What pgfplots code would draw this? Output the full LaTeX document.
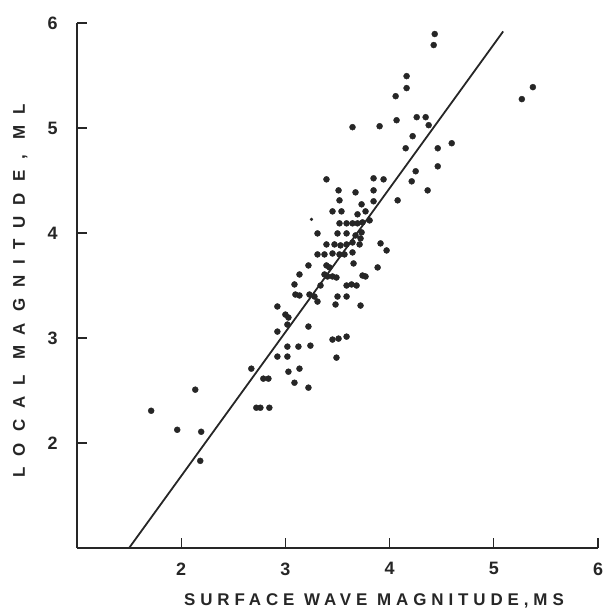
\documentclass[border=0pt]{standalone}
\usepackage{fontspec}
\setmainfont{Liberation Sans}
\usepackage{pgfplots}
\pgfplotsset{compat=1.18}
\definecolor{ink}{gray}{0.15}
\begin{document}
\begin{tikzpicture}[x=1bp,y=1bp]
\begin{axis}[
  scale only axis,
  width=521bp, height=525bp,
  xmin=1, xmax=6, ymin=1, ymax=6,
  axis x line=bottom, axis y line=left,
  axis line style={-, line width=1.5bp, ink},
  xtick={2,3,4,5,6}, ytick={2,3,4,5,6},
  tick align=inside,
  major tick length=10bp,
  tick style={line width=1.3bp, ink},
  /pgf/number format/assume math mode=true,
  ticklabel style={font=\fontsize{18}{18}\selectfont\bfseries, text=ink},
  yticklabel style={xshift=-16bp},
  xticklabel style={yshift=-11bp},
  xlabel={\addfontfeature{LetterSpace=29}SURFACE WAVE MAGNITUDE,MS},
  ylabel={\addfontfeature{LetterSpace=64}LOCAL MAGNITUDE, ML},
  label style={font=\fontsize{17}{17}\selectfont\bfseries, text=ink},
  xlabel style={at={(axis description cs:0.57,0)}, anchor=north, yshift=-42bp},
  ylabel style={at={(axis description cs:0,0.49)}, anchor=south, yshift=46bp},
  clip=false,
]
\coordinate (sw) at (rel axis cs:0,0);
\coordinate (ne) at (rel axis cs:1,1);
\addplot[only marks, mark=*, mark size=3bp, ink, mark options={draw=ink, fill=ink}] coordinates {
(1.712,2.307) (1.962,2.126) (2.135,2.508) (2.192,2.107) (2.183,1.830)
(2.721,2.336) (2.760,2.336) (2.846,2.336) (2.673,2.708) (2.788,2.613)
(2.837,2.613) (2.923,2.823) (3.019,2.823) (3.490,2.813) (3.029,2.679)
(3.135,2.708) (3.087,2.574) (3.221,2.527) (3.019,2.918) (3.125,2.918)
(3.240,2.927) (3.452,2.985) (3.510,2.994) (3.587,3.013) (2.923,3.061)
(3.221,3.109) (3.019,3.128) (3.000,3.223) (3.029,3.195) (2.923,3.300)
(3.481,3.319) (3.721,3.309) (3.096,3.414) (3.135,3.405) (3.231,3.414)
(3.279,3.395) (3.308,3.347) (3.500,3.395) (3.587,3.395) (3.087,3.510)
(3.337,3.500) (3.587,3.500) (3.635,3.510) (3.683,3.500) (3.135,3.605)
(3.375,3.605) (3.404,3.586) (3.452,3.586) (3.490,3.576) (3.740,3.595) (3.769,3.586)
(3.221,3.691) (3.394,3.691) (3.423,3.672) (3.654,3.710) (3.885,3.672)
(3.308,3.796) (3.375,3.796) (3.452,3.805) (3.519,3.796) (3.567,3.796)
(3.644,3.815) (3.971,3.834) (3.394,3.891) (3.471,3.891) (3.529,3.882)
(3.587,3.891) (3.644,3.910) (3.712,3.891) (3.913,3.901) (3.721,3.948)
(3.308,3.996) (3.500,3.996) (3.587,3.996) (3.673,3.977) (3.731,4.006)
(3.519,4.092) (3.587,4.092) (3.644,4.092) (3.692,4.092) (3.740,4.101)
(3.808,4.120) (3.452,4.206) (3.538,4.206) (3.692,4.178)
(3.769,4.206) (3.731,4.273) (3.519,4.311) (3.846,4.302) (4.077,4.311)
(3.510,4.406) (3.673,4.387) (3.846,4.406) (4.365,4.406) (3.394,4.511)
(3.846,4.521) (3.942,4.511) (4.212,4.492) (4.250,4.588) (4.462,4.635)
(4.154,4.807) (4.462,4.807) (4.596,4.855) (4.221,4.922) (4.375,5.027)
(4.260,5.103) (4.346,5.103) (4.067,5.074) (3.904,5.017) (3.644,5.008)
(4.058,5.303) (4.163,5.380) (4.163,5.494) (4.423,5.790) (4.433,5.895)
(5.269,5.275) (5.375,5.389)
};
\addplot[only marks, mark=*, mark size=1.5bp, ink] coordinates {(3.250,4.130)};
\addplot[ink, line width=1.8bp] coordinates {(1.5,1) (5.09,5.92)};
\end{axis}
\pgfresetboundingbox
\path[use as bounding box] ([xshift=-77bp,yshift=-64bp]sw) rectangle ([xshift=4bp,yshift=23bp]ne);
\end{tikzpicture}
\end{document}
